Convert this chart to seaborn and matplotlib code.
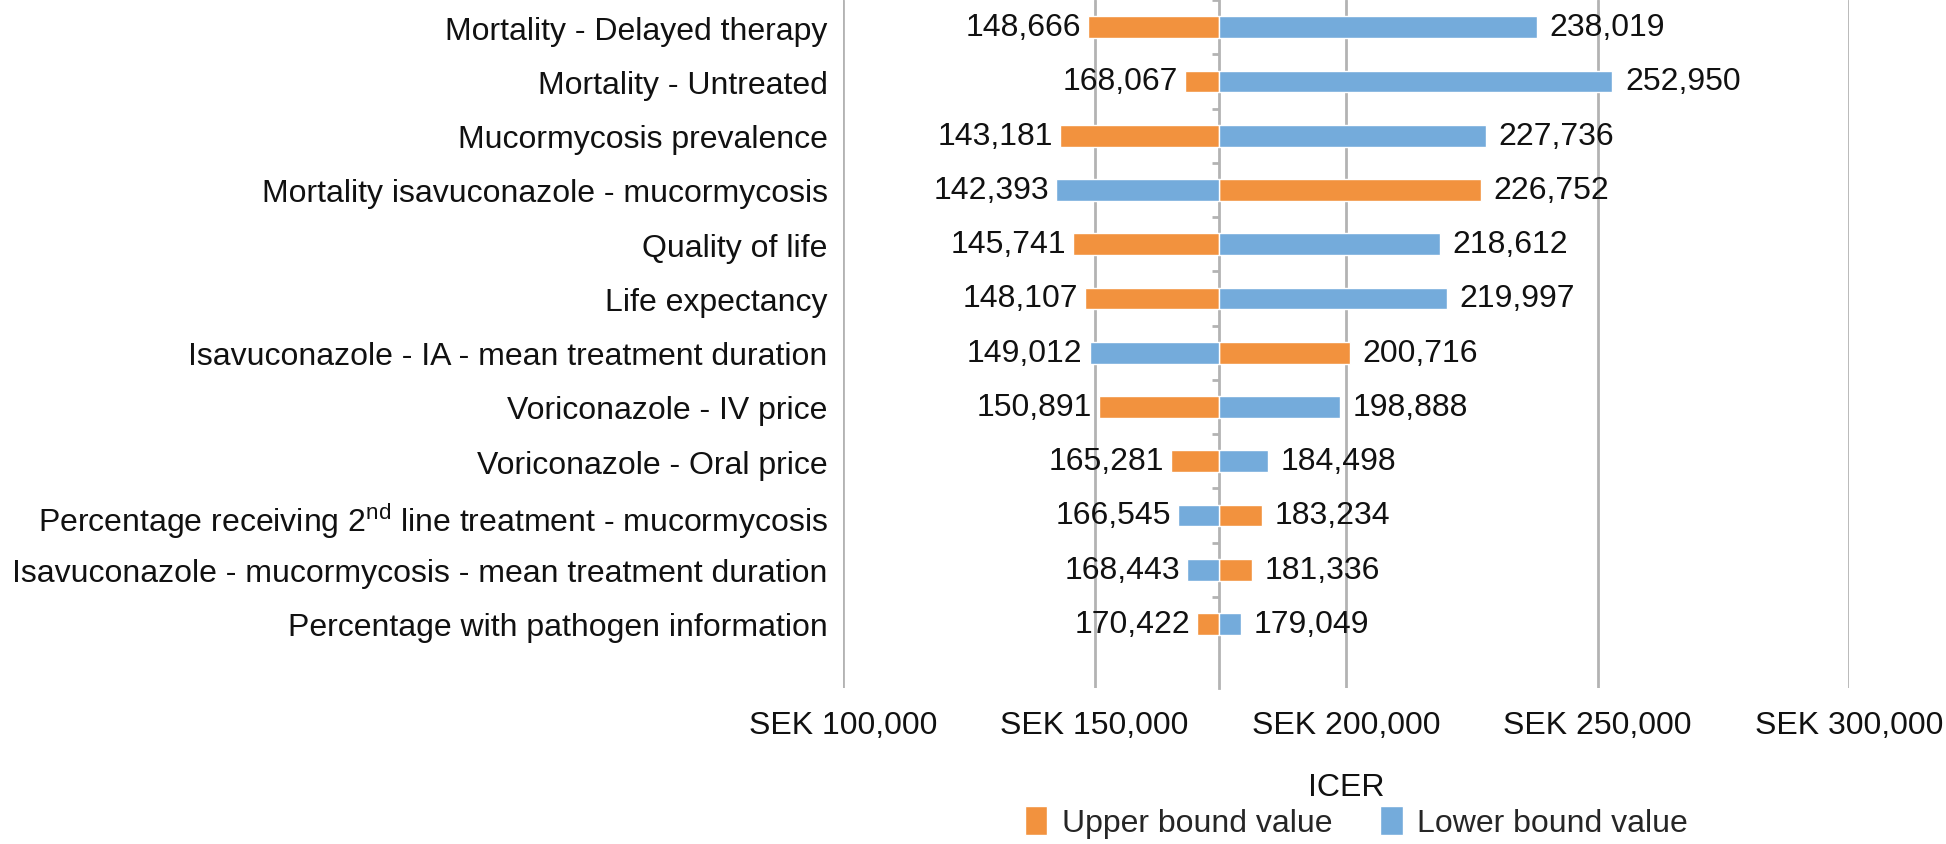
import numpy as np
import pandas as pd
import matplotlib
matplotlib.use('Agg')
import matplotlib.pyplot as plt
from matplotlib.patches import Patch
import seaborn as sns

# one-way sensitivity analysis, top to bottom as in the chart
categories = [
    'Mortality - Delayed therapy',
    'Mortality - Untreated',
    'Mucormycosis prevalence',
    'Mortality isavuconazole - mucormycosis',
    'Quality of life',
    'Life expectancy',
    'Isavuconazole - IA - mean treatment duration',
    'Voriconazole - IV price',
    'Voriconazole - Oral price',
    'Percentage receiving 2$^{\\mathrm{nd}}$ line treatment - mucormycosis',
    'Isavuconazole - mucormycosis - mean treatment duration',
    'Percentage with pathogen information',
]
upper_values = [148666, 168067, 143181, 226752, 145741, 148107,
                200716, 150891, 165281, 183234, 181336, 170422]
lower_values = [238019, 252950, 227736, 142393, 218612, 219997,
                149012, 198888, 184498, 166545, 168443, 179049]

BASE_ICER = 174750
x_ticks   = [100000, 150000, 200000, 250000, 300000]

UPPER = 'Upper bound value'
LOWER = 'Lower bound value'
COLORS = {UPPER: '#F2923E', LOWER: '#74ABDB'}
GRID   = '#B3B3B3'
FS     = 23

n  = len(categories)
df = pd.DataFrame({
    'parameter': categories * 2,
    'bound'    : [UPPER] * n + [LOWER] * n,
    'icer'     : upper_values + lower_values,
})
df['offset'] = df['icer'] - BASE_ICER

sns.set_theme(style='white')
plt.rcParams['font.family'] = ['Liberation Sans', 'DejaVu Sans']
plt.rcParams['mathtext.fontset'] = 'custom'
plt.rcParams['mathtext.rm'] = 'Liberation Sans'

fig = plt.figure(figsize=(19.46, 8.45), dpi=100)
ax  = fig.add_axes([0.4332, 0.1846, 0.5170, 0.8142])

sns.barplot(data=df, y='parameter', x='offset', hue='bound',
            hue_order=[UPPER, LOWER], palette=COLORS, dodge=False,
            width=0.4, errorbar=None, orient='h', saturation=1,
            left=BASE_ICER, legend=False, ax=ax)

for _, row in df.iterrows():
    y = categories.index(row['parameter'])
    on_left = row['icer'] < BASE_ICER
    ax.annotate(f"{row['icer']:,}", xy=(row['icer'], y),
                xytext=(-5 if on_left else 9, 0), textcoords='offset points',
                ha='right' if on_left else 'left', va='center',
                fontsize=FS, color='#111111')

ax.set_xlim(x_ticks[0], x_ticks[-1])
ax.set_ylim(12.18, -0.5)
ax.set_xticks(x_ticks)
ax.set_xticklabels([f'SEK {v:,}' for v in x_ticks])
ax.grid(axis='x', color=GRID, lw=2.0)
ax.set_axisbelow(True)
for s in ax.spines.values():
    s.set_visible(False)
ax.tick_params(axis='x', length=0, pad=16, labelsize=FS, colors='#111111')
ax.tick_params(axis='y', length=0, pad=11, labelsize=FS, colors='#111111')
ax.set_ylabel('')
ax.set_xlabel('ICER', fontsize=FS, labelpad=23, color='#111111')

# vertical category axis crossing at the base-case ICER
base_frac = (BASE_ICER - x_ticks[0]) / (x_ticks[-1] - x_ticks[0])
sec = ax.secondary_yaxis(base_frac)
sec.set_yticks(np.arange(-0.5, n - 1, 1))
sec.set_yticklabels([])
sec.tick_params(length=5, width=2.0, color=GRID, direction='out')
for s in sec.spines.values():
    s.set_color(GRID)
    s.set_linewidth(2.0)

handles = [Patch(facecolor=COLORS[k], label=k) for k in (UPPER, LOWER)]
fig.legend(handles=handles, loc='center', bbox_to_anchor=(0.697, 0.026),
           ncol=2, frameon=False, fontsize=FS, handlelength=0.7,
           handleheight=1.0, columnspacing=1.5, handletextpad=0.45)

fig.savefig('out.png', dpi=100)
